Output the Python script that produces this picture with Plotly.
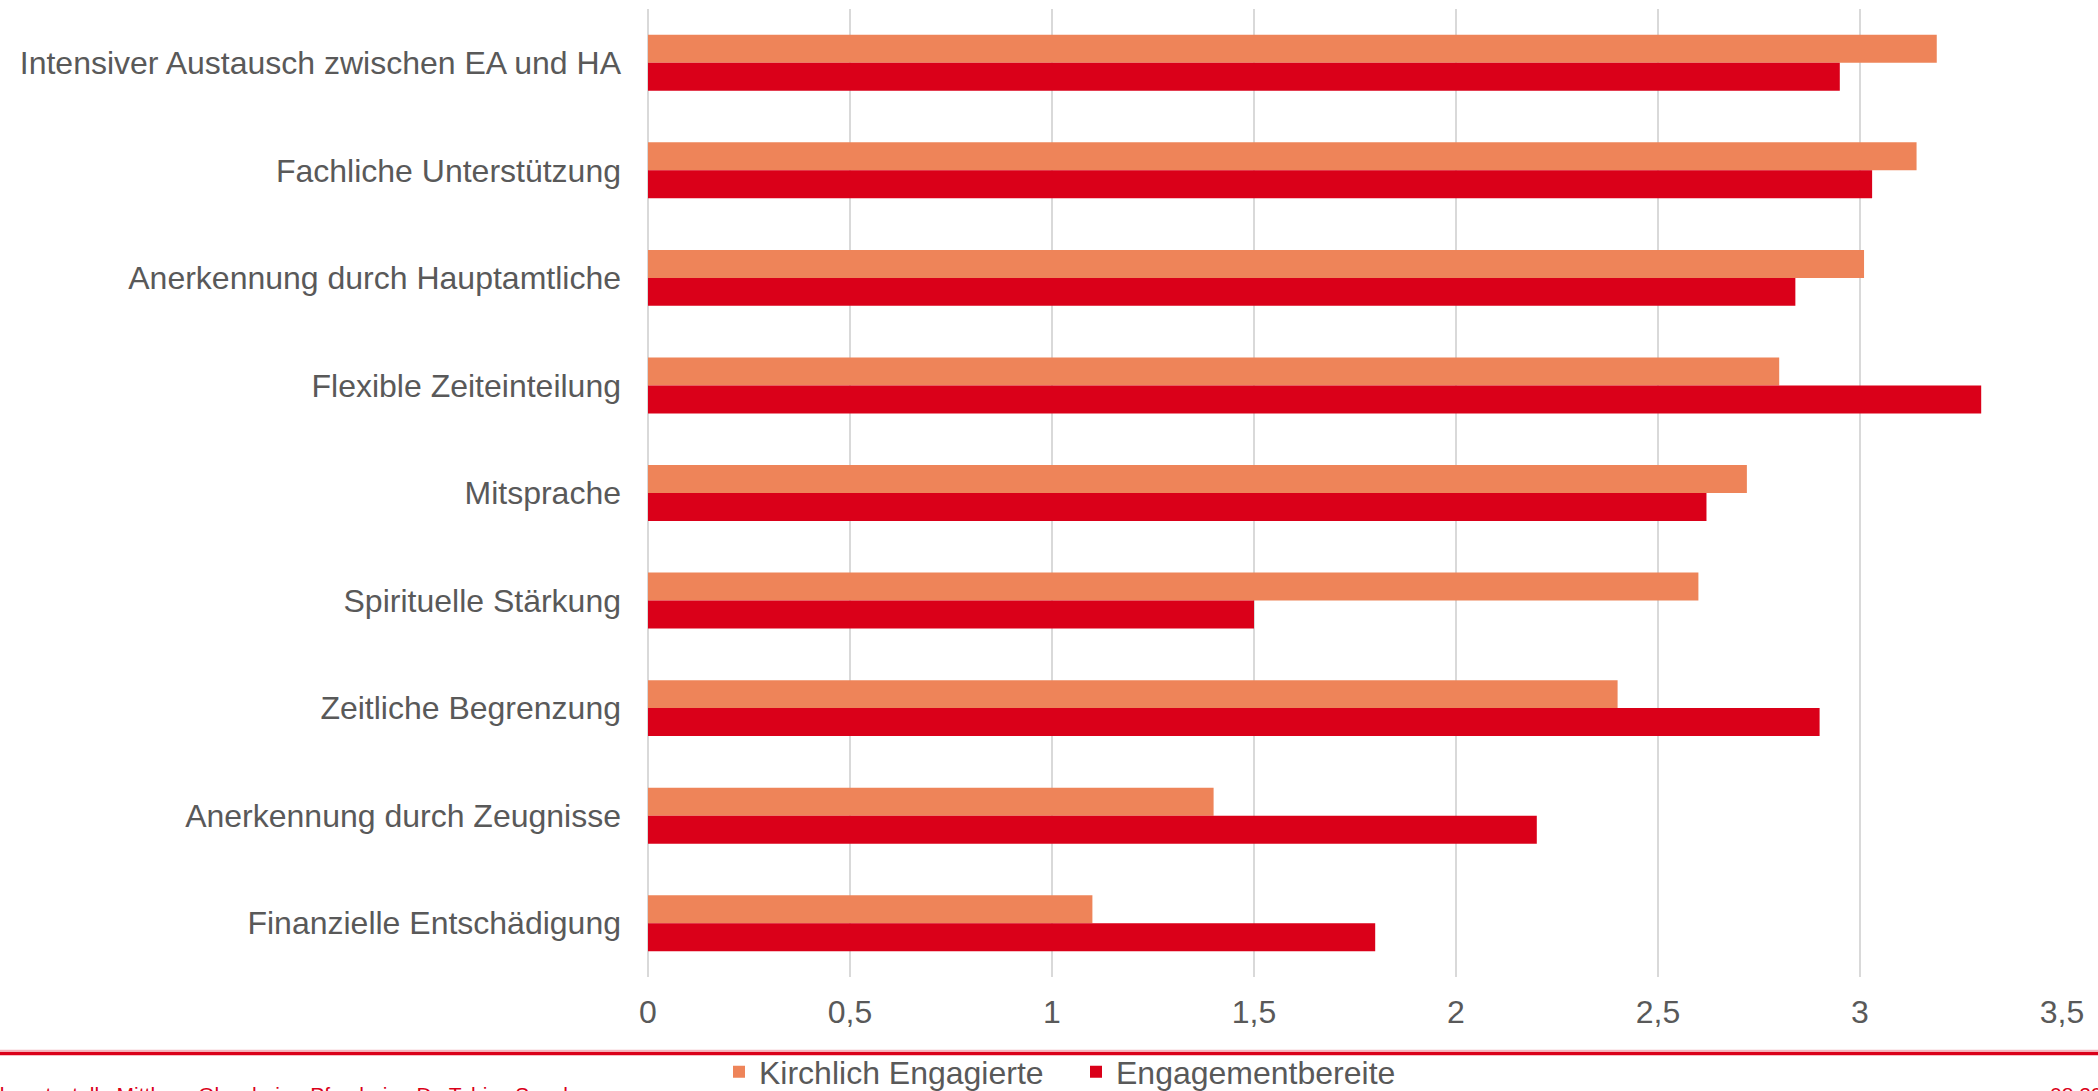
import plotly.graph_objects as go

categories = [
    "Intensiver Austausch zwischen EA und HA",
    "Fachliche Unterstützung",
    "Anerkennung durch Hauptamtliche",
    "Flexible Zeiteinteilung",
    "Mitsprache",
    "Spirituelle Stärkung",
    "Zeitliche Begrenzung",
    "Anerkennung durch Zeugnisse",
    "Finanzielle Entschädigung",
]
kirchlich = [3.19, 3.14, 3.01, 2.80, 2.72, 2.60, 2.40, 1.40, 1.10]
bereite = [2.95, 3.03, 2.84, 3.30, 2.62, 1.50, 2.90, 2.20, 1.80]
series_names = ["Kirchlich Engagierte", "Engagementbereite"]
x_ticks = [0, 0.5, 1, 1.5, 2, 2.5, 3, 3.5]
x_ticklabels = ["0", "0,5", "1", "1,5", "2", "2,5", "3", "3,5"]
footer_left = "Dekanatsstelle Mittlerer Oberrhein - Pforzheim, Dr. Tobias Speck"
footer_right = "08.2020"

W, H = 2098, 1091
L, R, T, B = 648, 36, 9, 114
pw, ph = W - L - R, H - T - B

def px_x(p):
    return (p - L) / pw

def px_y(p):
    return (H - B - p) / ph

FONT = "Liberation Sans, Arial, sans-serif"
GREY = "#595959"
ORANGE = "#EE8459"
RED = "#DA0019"

fig = go.Figure()
fig.add_trace(go.Bar(y=categories, x=kirchlich, orientation="h", name=series_names[0],
                     marker=dict(color=ORANGE, line=dict(width=0))))
fig.add_trace(go.Bar(y=categories, x=bereite, orientation="h", name=series_names[1],
                     marker=dict(color=RED, line=dict(width=0))))

fig.update_layout(
    width=W, height=H,
    margin=dict(l=L, r=R, t=T, b=B, autoexpand=False),
    paper_bgcolor="white", plot_bgcolor="white",
    barmode="group", bargap=0.48, bargroupgap=0,
    separators=",.",
    font=dict(family=FONT, size=32, color=GREY),
    showlegend=True,
    legend=dict(orientation="h", x=px_x(1076), y=px_y(1072), xanchor="center", yanchor="middle",
                font=dict(size=32, color=GREY), traceorder="normal", itemwidth=30,
                entrywidth=312, entrywidthmode="pixels",
                bgcolor="rgba(0,0,0,0)"),
    xaxis=dict(range=[0, 3.5], tickvals=x_ticks, ticktext=x_ticklabels,
               showgrid=True, gridcolor="#D9D9D9", gridwidth=1.5,
               zeroline=True, zerolinecolor="#D9D9D9", zerolinewidth=1.5,
               showline=False, ticks="", ticklabelstandoff=13,
               tickfont=dict(size=32, color=GREY), fixedrange=True),
    yaxis=dict(autorange="reversed", showgrid=False, zeroline=False, showline=False,
               ticks="", ticklabelstandoff=26,
               tickfont=dict(size=32, color=GREY), fixedrange=True),
)

fig.add_shape(type="line", xref="paper", yref="paper",
              x0=px_x(0), x1=px_x(W), y0=px_y(1050.5), y1=px_y(1050.5),
              line=dict(color="#F2B5BD", width=1.5))
fig.add_shape(type="line", xref="paper", yref="paper",
              x0=px_x(0), x1=px_x(W), y0=px_y(1053.5), y1=px_y(1053.5),
              line=dict(color=RED, width=3.5))

fig.add_annotation(text=footer_left, xref="paper", yref="paper",
                   x=px_x(576), y=px_y(1081), xanchor="right", yanchor="top",
                   showarrow=False, font=dict(family=FONT, size=21, color=RED))
fig.add_annotation(text=footer_right, xref="paper", yref="paper",
                   x=px_x(2048), y=px_y(1081), xanchor="left", yanchor="top",
                   showarrow=False, font=dict(family=FONT, size=21, color=RED))

fig.write_html("out.html", config={"displayModeBar": False},
               post_script="document.body.style.margin='0';document.body.style.overflow='hidden';")
